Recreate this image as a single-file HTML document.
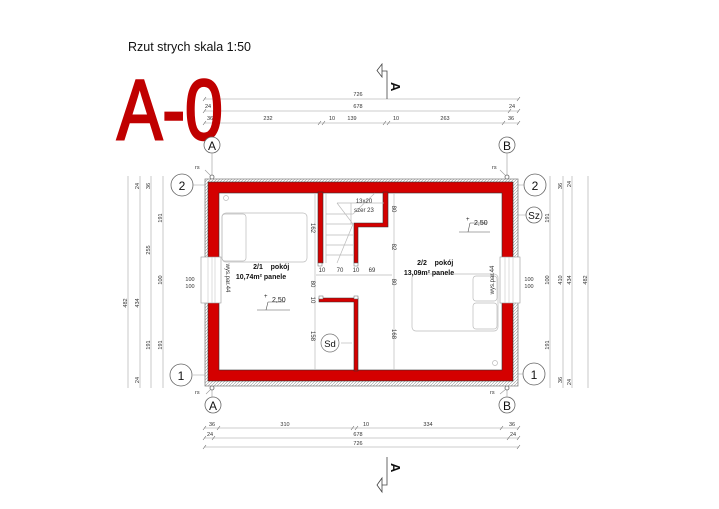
<!DOCTYPE html>
<html><head><meta charset="utf-8"><style>
html,body{margin:0;padding:0;background:#fff;}
svg{display:block;font-family:"Liberation Sans",sans-serif;}
</style></head><body>
<svg width="719" height="509" viewBox="0 0 719 509" xmlns="http://www.w3.org/2000/svg">
<defs>
<pattern id="h" width="3" height="3" patternUnits="userSpaceOnUse"><rect width="3" height="3" fill="#fff"/><path d="M0 3L3 0" stroke="#999" stroke-width="0.6"/></pattern>
</defs>
<text x="128" y="51" font-size="12.5" fill="#111">Rzut strych skala 1:50</text>

<g stroke="#bbb" stroke-width="0.8">
<line x1="204" y1="99" x2="519" y2="99"/><line x1="204" y1="111" x2="519" y2="111"/><line x1="204" y1="123" x2="519" y2="123"/>
</g>
<g stroke="#666" stroke-width="0.6">
<path d="M203 101l3-4M203 113l3-4M213 113l3-4M508 113l3-4M517 113l3-4M517 101l3-4M203 125l3-4M217 125l3-4M318 125l3-4M322 125l3-4M383 125l3-4M387 125l3-4M502 125l3-4M517 125l3-4"/>
</g>
<g font-size="5.5" fill="#333" text-anchor="middle">
<text x="358" y="96">726</text><text x="358" y="108">678</text><text x="208" y="108">24</text><text x="512" y="108">24</text>
<text x="210" y="120">36</text><text x="268" y="120">232</text><text x="332" y="120">10</text><text x="352" y="120">139</text><text x="396" y="120">10</text><text x="445" y="120">263</text><text x="511" y="120">36</text>
</g>
<path d="M387 99V71H382V64L377 70.5L382 77V71" fill="none" stroke="#444" stroke-width="0.8"/>
<text x="0" y="0" font-size="13" font-weight="bold" fill="#111" transform="translate(391,82) rotate(90)">A</text>

<text x="0" y="0" font-size="85" fill="#c00000" stroke="#c00000" stroke-width="2.5" transform="translate(117,139) scale(0.8,1)">A-0</text>

<g fill="#fff" stroke="#666" stroke-width="0.8">
<circle cx="212" cy="145" r="8"/><circle cx="507" cy="145" r="8"/>
<circle cx="213" cy="405" r="8"/><circle cx="507" cy="405" r="8"/>
<circle cx="182" cy="185" r="11"/><circle cx="181" cy="375" r="11"/>
<circle cx="535" cy="185" r="11"/><circle cx="534" cy="374" r="11"/>
<circle cx="534" cy="215" r="8"/>
<circle cx="212" cy="177" r="2"/><circle cx="507" cy="177" r="2"/><circle cx="212" cy="388" r="2"/><circle cx="507" cy="388" r="2"/>
</g>
<g stroke="#999" stroke-width="0.6">
<path d="M212 153V175M507 153V175M212 390V397M507 390V397M205 170L211 176M500 170L506 176M206 394L211 389M500 394L506 389M193 185H205M193 375H205M524 185H518M523 374H518M526 215H518"/>
</g>
<g font-size="12" fill="#111" text-anchor="middle">
<text x="212" y="150">A</text><text x="507" y="150">B</text><text x="213" y="410">A</text><text x="507" y="410">B</text>
<text x="182" y="190">2</text><text x="181" y="380">1</text><text x="535" y="190">2</text><text x="534" y="379">1</text>
<text x="534" y="219" font-size="10">Sz</text>
</g>
<g font-size="5.5" fill="#333"><text x="195" y="169">rs</text><text x="492" y="169">rs</text><text x="195" y="394">rs</text><text x="490" y="394">rs</text></g>

<g stroke="#bbb" stroke-width="0.8">
<line x1="128" y1="176" x2="128" y2="388"/><line x1="140" y1="176" x2="140" y2="388"/><line x1="151" y1="176" x2="151" y2="388"/><line x1="163" y1="176" x2="163" y2="388"/>
<line x1="550" y1="176" x2="550" y2="388"/><line x1="563" y1="176" x2="563" y2="388"/><line x1="572" y1="176" x2="572" y2="388"/><line x1="588" y1="176" x2="588" y2="388"/>
</g>
<g font-size="5.5" fill="#333" text-anchor="middle">
<text transform="translate(127,303) rotate(-90)">482</text><text transform="translate(139,303) rotate(-90)">434</text><text transform="translate(150,250) rotate(-90)">255</text>
<text transform="translate(162,218) rotate(-90)">191</text><text transform="translate(162,280) rotate(-90)">100</text><text transform="translate(162,345) rotate(-90)">191</text><text transform="translate(150,345) rotate(-90)">191</text>
<text transform="translate(139,186) rotate(-90)">24</text><text transform="translate(150,186) rotate(-90)">36</text><text transform="translate(139,380) rotate(-90)">24</text>
<text transform="translate(549,218) rotate(-90)">191</text><text transform="translate(549,280) rotate(-90)">100</text><text transform="translate(549,345) rotate(-90)">191</text>
<text transform="translate(562,280) rotate(-90)">410</text><text transform="translate(571,280) rotate(-90)">434</text><text transform="translate(587,280) rotate(-90)">482</text>
<text transform="translate(562,186) rotate(-90)">36</text><text transform="translate(571,184) rotate(-90)">24</text><text transform="translate(562,380) rotate(-90)">36</text><text transform="translate(571,382) rotate(-90)">24</text>
<text x="190" y="281">100</text><text x="190" y="288">100</text><text x="529" y="281">100</text><text x="529" y="288">100</text>
</g>

<rect x="205" y="179" width="313" height="207" fill="url(#h)" stroke="#888" stroke-width="0.8"/>
<rect x="208" y="182" width="305" height="199" fill="#d40000" stroke="#333" stroke-width="0.6"/>
<rect x="219" y="193" width="283" height="177" fill="#fff" stroke="#333" stroke-width="0.6"/>
<rect x="201" y="257" width="20" height="46" fill="#fff" stroke="#999" stroke-width="0.6"/>
<rect x="500" y="257" width="20" height="46" fill="#fff" stroke="#999" stroke-width="0.6"/>
<g stroke="#bbb" stroke-width="0.5"><path d="M208 257V303M212 257V303M215 257V303M505 257V303M509 257V303M513 257V303"/></g>
<g fill="#d40000" stroke="#333" stroke-width="0.6">
<rect x="318" y="192" width="5" height="71"/>
<path d="M383 192H388V227H358V263H354V223H383Z"/>
<path d="M319 298H358V371H354V302H319Z"/>
</g>
<g fill="#fff" stroke="#666" stroke-width="0.5"><rect x="318" y="263" width="4" height="3"/><rect x="354" y="263" width="4" height="3"/><rect x="319" y="296" width="4" height="3"/><rect x="354" y="296" width="4" height="3"/></g>
<g stroke="#bbb" stroke-width="0.7" fill="none">
<path d="M315 193V370M394 193V370M316 275H392"/>
<path d="M326 193V263M337 203H384M326 214H353M326 224H353M326 235H353M326 245H353M326 255H353M351 203V224M337 203L353 224L337 263M353 214L375 193"/>
<rect x="222" y="213" width="85" height="49" rx="4"/><rect x="222" y="214" width="24" height="47" rx="3"/>
<rect x="412" y="274" width="86" height="57" rx="4"/><rect x="473" y="276" width="24" height="25" rx="3"/><rect x="473" y="303" width="24" height="26" rx="3"/>
<circle cx="226" cy="198" r="2.5"/><circle cx="495" cy="363" r="2.5"/>
<path d="M341 343H352"/>
</g>
<circle cx="330" cy="343" r="9" fill="#fff" stroke="#777" stroke-width="0.7"/>
<text x="330" y="347" font-size="9.5" text-anchor="middle" fill="#111">Sd</text>
<g stroke="#555" stroke-width="0.6" fill="none"><path d="M257 310H290M266 310L268 302M268 302H285M459 232H490M468 232L470 223M470 223H487"/></g>
<g fill="#222">
<text x="272" y="302" font-size="7">2,50</text><text x="474" y="225" font-size="7">2,50</text>
<text x="264" y="298" font-size="6">+</text><text x="466" y="221" font-size="6">+</text>
</g>
<g font-size="7" fill="#111" font-weight="bold" text-anchor="middle">
<text x="258" y="269">2/1</text><text x="280" y="269">pokój</text><text x="261" y="279">10,74m² panele</text>
<text x="422" y="265">2/2</text><text x="444" y="265">pokój</text><text x="429" y="275">13,09m² panele</text>
</g>
<g font-size="6" fill="#333" text-anchor="middle">
<text x="364" y="203">13x20</text><text x="364" y="212">szer 23</text>
<text x="322" y="272">10</text><text x="340" y="272">70</text><text x="356" y="272">10</text><text x="372" y="272">69</text>
<text transform="translate(226,278) rotate(90)">wys.par.44</text>
<text transform="translate(494,280) rotate(-90)">wys.par.44</text>
<text transform="translate(311,228) rotate(90)">162</text><text transform="translate(311,284) rotate(90)">80</text><text transform="translate(311,300) rotate(90)">10</text><text transform="translate(311,336) rotate(90)">158</text>
<text transform="translate(392,209) rotate(90)">80</text><text transform="translate(392,247) rotate(90)">82</text><text transform="translate(392,282) rotate(90)">80</text><text transform="translate(392,334) rotate(90)">168</text>
</g>

<g stroke="#bbb" stroke-width="0.8">
<line x1="204" y1="428" x2="519" y2="428"/><line x1="204" y1="438" x2="519" y2="438"/><line x1="204" y1="447" x2="519" y2="447"/>
</g>
<g stroke="#666" stroke-width="0.6"><path d="M203 430l3-4M217 430l3-4M351 430l3-4M355 430l3-4M500 430l3-4M517 430l3-4M203 440l3-4M212 440l3-4M507 440l3-4M517 440l3-4M203 449l3-4M517 449l3-4"/></g>
<g font-size="5.5" fill="#333" text-anchor="middle">
<text x="212" y="426">36</text><text x="285" y="426">310</text><text x="366" y="426">10</text><text x="428" y="426">334</text><text x="512" y="426">36</text>
<text x="210" y="436">24</text><text x="358" y="436">678</text><text x="513" y="436">24</text><text x="358" y="445">726</text>
</g>
<path d="M387 457V485H382V478L377 485L382 492V485" fill="none" stroke="#444" stroke-width="0.8"/>
<text x="0" y="0" font-size="13" font-weight="bold" fill="#111" transform="translate(391,463) rotate(90)">A</text>
</svg>
</body></html>
